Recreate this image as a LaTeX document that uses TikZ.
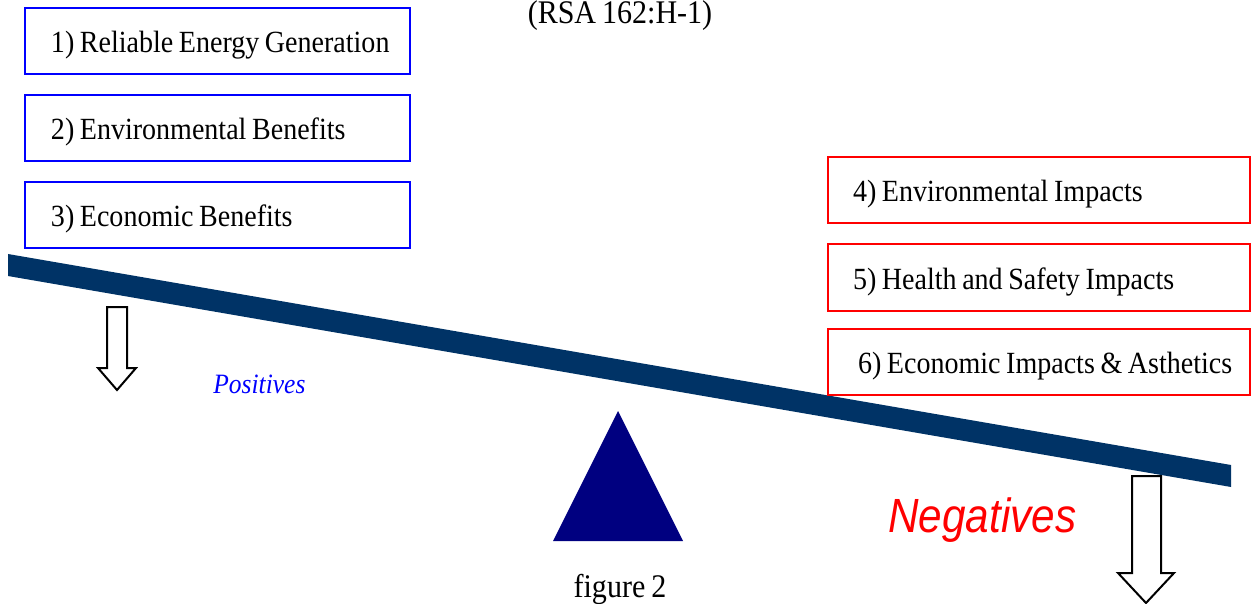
\documentclass[tikz,border=0pt]{standalone}
\usepackage{fontspec}
\setmainfont{Liberation Serif}[FakeStretch=0.91, WordSpace=0.8]
\newfontfamily\negfont{Liberation Sans}[FakeStretch=0.88]
\usetikzlibrary{positioning}
\definecolor{posBlue}{HTML}{0000FF}
\definecolor{negRed}{HTML}{FF0000}
\definecolor{beamNavy}{HTML}{003366}
\definecolor{pivotNavy}{HTML}{000080}
\tikzset{
  box/.style={
    rectangle,
    draw,
    line width=1pt,
    align=left,
    font=\fontsize{15.4}{17}\selectfont,
    minimum height=33pt,
    text height=11.5pt,
    text depth=0pt,
    inner xsep=0pt,
    inner ysep=0pt
  },
  posbox/.style={box, draw=posBlue, text width=192.5pt,
    execute at begin node={\spaceskip=0pt\xspaceskip=0pt\hspace*{13pt}}},
  negbox/.style={box, draw=negRed, text width=211pt,
    execute at begin node={\spaceskip=0pt\xspaceskip=0pt\hspace*{12.5pt}}},
  downarrow/.style={draw=black, line width=1pt, fill=white, line join=miter},
  caption/.style={font=\fontsize{16.5}{19}\selectfont, anchor=base}
}

\begin{document}
\begin{tikzpicture}[x=0.5pt, y=-0.5pt, node distance=9.5pt]
  \useasboundingbox (0,0) rectangle (1252,604);
  % beam and pivot
  \fill[beamNavy] (8,254) -- (1231,465) -- (1231,487) -- (8,276) -- cycle;
  \fill[pivotNavy] (618,411) -- (683,541) -- (553,541) -- cycle;
  % positives
  \node[posbox] (gen) at (217.5,41) {1) Reliable Energy Generation};
  \node[posbox, below=of gen] (envben) {2) Environmental Benefits};
  \node[posbox, below=of envben] (ecoben) {3) Economic Benefits};
  % negatives
  \node[negbox] (envimp) at (1039,190.5) {4) Environmental Impacts};
  \node[negbox, below=of envimp] (health) {5) Health and Safety Impacts};
  \node[negbox, below=8pt of health] (ecoimp) {\hspace*{2.5pt}6) Economic Impacts \& Asthetics};
  % weights
  \draw[downarrow] (107,307) -- (127,307) -- (127,368) -- (136,368) -- (117,390) -- (98,368) -- (107,368) -- cycle;
  \draw[downarrow] (1132,476) -- (1161,476) -- (1161,573) -- (1174,573) -- (1146,603) -- (1118,573) -- (1132,573) -- cycle;
  % labels
  \node[caption] (rsa) at (620,24) {(RSA 162:H-1)};
  \node[caption] (fig) at (620,597) {figure 2};
  \node[anchor=base west, text=posBlue, inner sep=0pt, font=\fontsize{14}{17}\selectfont\itshape] (pos) at (213,393) {Positives};
  \node[anchor=base west, text=negRed, inner sep=0pt, font=\negfont\fontsize{24}{28}\selectfont\itshape] (neg) at (888,532) {Negatives};
\end{tikzpicture}
\end{document}
